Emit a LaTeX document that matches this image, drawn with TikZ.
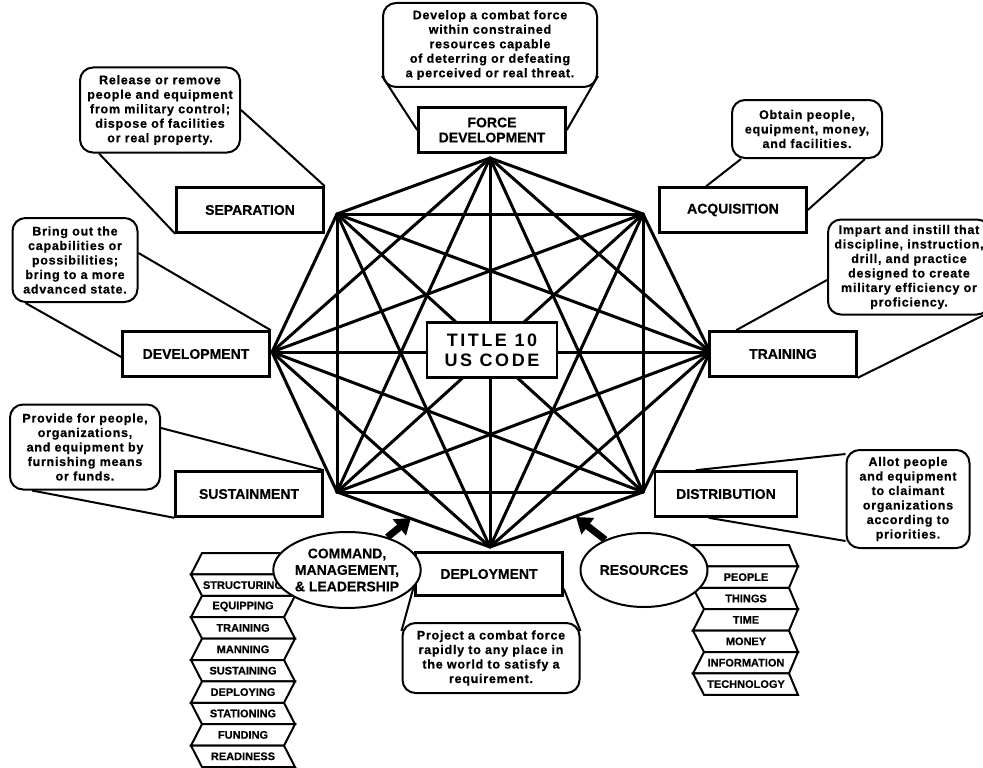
\documentclass[tikz,border=0pt]{standalone}
\usepackage{fontspec}
\setmainfont{Liberation Sans}
\newfontfamily\bubfont[LetterSpace=6,FakeBold=0.6]{Liberation Sans}
\newfontfamily\lblfont[FakeBold=0.4]{Liberation Sans}
\newfontfamily\ttlfont[LetterSpace=14]{Liberation Sans}
\usetikzlibrary{calc,arrows.meta,shapes.geometric}
\definecolor{ink}{HTML}{000000}
\definecolor{paper}{HTML}{FFFFFF}
\tikzset{
  edge/.style={draw=ink, line width=3pt, line cap=round},
  ttl/.style={draw=ink, fill=paper, line width=2.6pt, minimum width=130pt, minimum height=55pt, inner sep=0pt, align=center, font=\ttlfont\bfseries\fontsize{18}{20}\selectfont},
  func/.style={draw=ink, fill=paper, line width=2.6pt, minimum width=147pt, minimum height=45pt, inner sep=0pt, align=center, font=\lblfont\bfseries\fontsize{14}{15}\selectfont},
  bub/.style={draw=ink, fill=paper, line width=2pt, rounded corners=13pt, inner sep=0pt, align=center, font=\bubfont\bfseries\fontsize{12.5}{14.5}\selectfont},
  tail/.style={draw=ink, line width=2pt},
  oval/.style={ellipse, draw=ink, fill=paper, line width=2pt, inner sep=0pt, minimum width=127pt, minimum height=76pt, align=center, font=\lblfont\bfseries\fontsize{14}{16.5}\selectfont},
  rib/.style={draw=ink, fill=paper, line width=2pt, line join=miter},
  ribtxt/.style={inner sep=0pt, font=\lblfont\bfseries\fontsize{11}{11}\selectfont},
  push/.style={draw=ink, line width=7pt, -{Triangle[length=15pt,width=20pt]}},
}

\begin{document}
\begin{tikzpicture}[x=1pt,y=-1pt]
  \fill[paper] (0,0) rectangle (983,768);
  \useasboundingbox (0,0) rectangle (983,768);

  % octagon corners, clockwise from the top
  \coordinate (v1) at (490,158);
  \coordinate (v2) at (643,214);
  \coordinate (v3) at (710,352);
  \coordinate (v4) at (643,492);
  \coordinate (v5) at (490,547);
  \coordinate (v6) at (337,492);
  \coordinate (v7) at (272,352);
  \coordinate (v8) at (337,214);

  % every corner joined to every other
  \foreach \i in {1,...,7}{
    \pgfmathtruncatemacro\nxt{\i+1}
    \foreach \j in {\nxt,...,8}{\draw[edge] (v\i) -- (v\j);}
  }

  \node[ttl] (code) at (492,350) {TITLE 10\\US CODE};

  % functions
  \node[func] (fd) at (492,130) {FORCE\\DEVELOPMENT};
  \node[func] (sep) at (250,210) {SEPARATION};
  \node[func] (acq) at (733,210) {ACQUISITION};
  \node[func] (dev) at (196,354) {DEVELOPMENT};
  \node[func] (trn) at (783,354) {TRAINING};
  \node[func] (sus) at (249,494) {SUSTAINMENT};
  \node[func, minimum width=142pt] (dis) at (726,494) {DISTRIBUTION};
  \node[func, minimum height=43pt] (dep) at (489,574) {DEPLOYMENT};

  % definitions
  \node[bub, minimum width=214pt, minimum height=84pt] (fdb) at (490,45)
    {Develop a combat force\\within constrained\\resources capable\\of deterring or defeating\\a perceived or real threat.};
  \node[bub, minimum width=160pt, minimum height=85pt] (sepb) at (160,110)
    {Release or remove\\people and equipment\\from military control;\\dispose of facilities\\or real property.};
  \node[bub, minimum width=150pt, minimum height=58pt] (acqb) at (807,129)
    {Obtain people,\\equipment, money,\\and facilities.};
  \node[bub, minimum width=162pt, minimum height=95pt] (trnb) at (909,267)
    {Impart and instill that\\discipline, instruction,\\drill, and practice\\designed to create\\military efficiency or\\proficiency.};
  \node[bub, minimum width=125pt, minimum height=84pt] (devb) at (75,260)
    {Bring out the\\capabilities or\\possibilities;\\bring to a more\\advanced state.};
  \node[bub, minimum width=150pt, minimum height=85pt] (susb) at (85,447)
    {Provide for people,\\organizations,\\and equipment by\\furnishing means\\or funds.};
  \node[bub, minimum width=123pt, minimum height=98pt] (disb) at (908,499)
    {Allot people\\and equipment\\to claimant\\organizations\\according to\\priorities.};
  \node[bub, minimum width=177pt, minimum height=70pt] (depb) at (491,658)
    {Project a combat force\\rapidly to any place in\\the world to satisfy a\\requirement.};

  % balloon tails
  \draw[tail] ([yshift=12pt]fdb.south west) -- (fd.west);
  \draw[tail] ([yshift=12pt]fdb.south east) -- (fd.east);
  \draw[tail] (sepb.east) -- (sep.north east);
  \draw[tail] ([xshift=20pt]sepb.south west) -- (sep.south west);
  \draw[tail] ([xshift=10pt]acqb.south west) -- ([xshift=48pt]acq.north west);
  \draw[tail] ([xshift=-18pt]acqb.south east) -- (acq.east);
  \draw[tail] ([yshift=-13pt]trnb.west) -- ([xshift=28pt]trn.north west);
  \draw[tail] ([xshift=-8pt]trnb.south east) -- (trn.south east);
  \draw[tail] ([yshift=7pt]devb.east) -- (dev.north east);
  \draw[tail] ([xshift=14pt]devb.south west) -- ([yshift=-3pt]dev.west);
  \draw[tail] ([yshift=19pt]susb.east) -- (sus.north east);
  \draw[tail] ([xshift=23pt]susb.south west) -- (sus.south west);
  \draw[tail] ([yshift=-5pt]disb.north west) -- ([xshift=42pt]dis.north west);
  \draw[tail] ([yshift=8pt]disb.south west) -- ([xshift=55pt]dis.south west);
  \draw[tail] ([yshift=-9pt]depb.north west) -- ([yshift=12pt]dep.south west);
  \draw[tail] ([yshift=-9pt]depb.north east) -- ([yshift=8pt]dep.south east);

  % left ribbon
  \foreach \k/\txt in {0/{},1/STRUCTURING,2/EQUIPPING,3/TRAINING,4/MANNING,5/SUSTAINING,6/DEPLOYING,7/STATIONING,8/FUNDING,9/READINESS}{
    \pgfmathsetmacro\ya{553+21.4*\k}
    \pgfmathsetmacro\yb{\ya+21.4}
    \pgfmathsetmacro\ym{\ya+10.7}
    \pgfmathsetmacro\la{isodd(\k) ? 191 : 202}
    \pgfmathsetmacro\lb{isodd(\k) ? 202 : 191}
    \pgfmathsetmacro\ra{isodd(\k) ? 284 : 295}
    \pgfmathsetmacro\rb{isodd(\k) ? 295 : 284}
    \draw[rib] (\la,\ya) -- (\ra,\ya) -- (\rb,\yb) -- (\lb,\yb) -- cycle;
    \node[ribtxt] (cl\k) at (243,\ym) {\txt};
  }

  % right ribbon
  \foreach \k/\txt in {0/{},1/PEOPLE,2/THINGS,3/TIME,4/MONEY,5/INFORMATION,6/TECHNOLOGY}{
    \pgfmathsetmacro\ya{545+21.4*\k}
    \pgfmathsetmacro\yb{\ya+21.4}
    \pgfmathsetmacro\ym{\ya+10.7}
    \pgfmathsetmacro\la{isodd(\k) ? 704 : 693}
    \pgfmathsetmacro\lb{isodd(\k) ? 693 : 704}
    \pgfmathsetmacro\ra{isodd(\k) ? 798 : 789}
    \pgfmathsetmacro\rb{isodd(\k) ? 789 : 798}
    \draw[rib] (\la,\ya) -- (\ra,\ya) -- (\rb,\yb) -- (\lb,\yb) -- cycle;
    \node[ribtxt] (rl\k) at (746,\ym) {\txt};
  }

  \node[oval] (cmd) at (347,570) {COMMAND,\\MANAGEMENT,\\\& LEADERSHIP};
  \node[oval, minimum height=74pt] (res) at (644,570) {RESOURCES};

  \coordinate (hitL) at (411,518);
  \coordinate (hitR) at (576,517);
  \draw[push] (cmd) -- (hitL);
  \draw[push] (res) -- (hitR);
\end{tikzpicture}
\end{document}
